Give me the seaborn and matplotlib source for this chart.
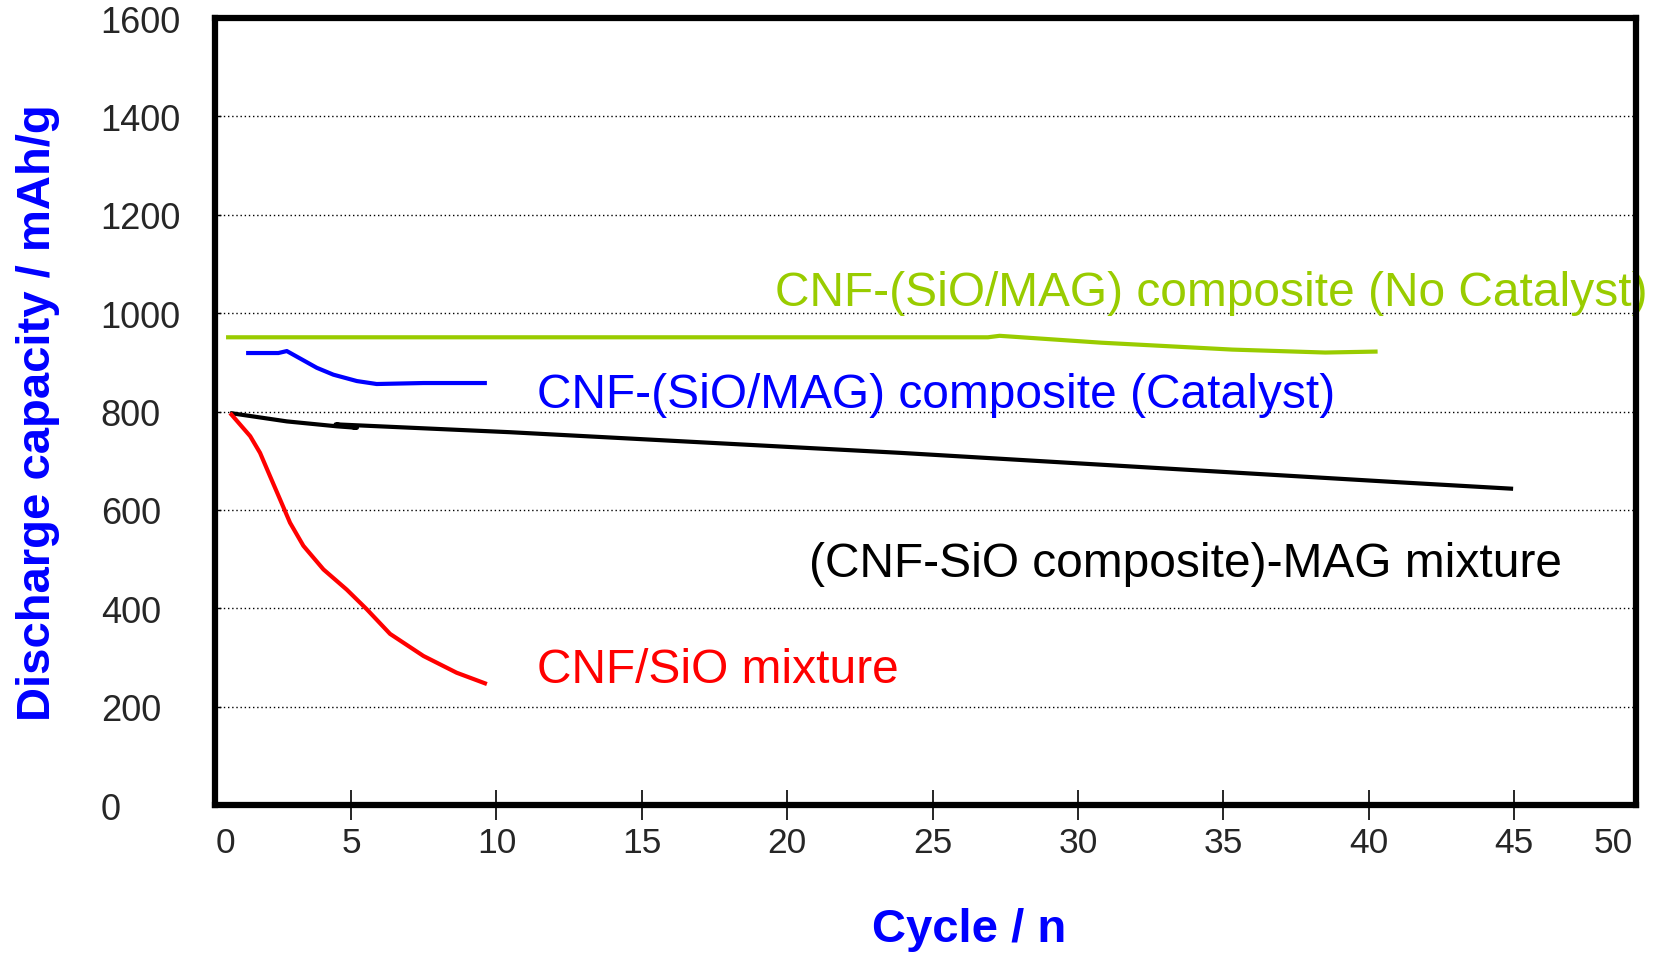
import matplotlib
matplotlib.use("Agg")
import matplotlib.pyplot as plt
import seaborn as sns
import pandas as pd

# Discharge capacity vs. cycle number for four anode materials
green_cycle = [0.70, 26.9, 27.3, 30.8, 35.3, 38.5, 40.3]
green_cap = [951, 951, 954, 940, 926, 920, 922]

blue_cycle = [1.39, 2.50, 2.79, 3.82, 4.39, 5.20, 5.88, 7.49, 9.67]
blue_cap = [919, 919, 923, 889, 875, 862, 856, 858, 858]

black_cycle = [0.84, 2.79, 4.51, 5.20, 4.47, 10.47, 23.9, 41.1, 44.96]
black_cap = [797, 780, 770, 767, 774, 758, 716, 656, 643]

red_cycle = [0.84, 1.53, 1.87, 2.21, 2.56, 2.90, 3.36, 4.05, 4.85, 5.54,
             6.34, 7.49, 8.63, 9.67]
red_cap = [797, 750, 716, 669, 621, 574, 527, 479, 438, 398,
           348, 303, 269, 246]

series_labels = [
    "CNF-(SiO/MAG) composite (No Catalyst)",
    "CNF-(SiO/MAG) composite (Catalyst)",
    "(CNF-SiO composite)-MAG mixture",
    "CNF/SiO mixture",
]
series_colors = ["#99CC00", "#0000FF", "#000000", "#FF0000"]
label_pos = [(19.58, 1017), (11.4, 810), (20.75, 465), (11.4, 250)]

xtick_pos = [0.68, 5, 10, 15, 20, 25, 30, 35, 40, 45, 48.4]
xtick_labels = ["0", "5", "10", "15", "20", "25", "30", "35", "40", "45", "50"]
ytick_vals = [0, 200, 400, 600, 800, 1000, 1200, 1400, 1600]

sns.set_theme(style="white")
plt.rcParams["font.family"] = ["Liberation Sans", "DejaVu Sans"]

fig = plt.figure(figsize=(16.57, 9.54), dpi=100)
ax = fig.add_axes([0.1295, 0.1551, 0.8579, 0.8249])

data = [(green_cycle, green_cap), (blue_cycle, blue_cap),
        (black_cycle, black_cap), (red_cycle, red_cap)]
for (xs, ys), color in zip(data, series_colors):
    df = pd.DataFrame({"cycle": xs, "capacity": ys})
    sns.lineplot(data=df, x="cycle", y="capacity", ax=ax, color=color,
                 linewidth=3.0, sort=False, estimator=None, legend=False)
for line in ax.get_lines():
    line.set_solid_joinstyle("round")
    line.set_solid_capstyle("butt")

for name, color, (tx, ty) in zip(series_labels, series_colors, label_pos):
    ax.text(tx, ty, name, color=color, fontsize=34.5, ha="left",
            va="baseline", zorder=1)

ax.set_xlim(0.306, 49.19)
ax.set_ylim(0, 1600)

ax.set_xticks(xtick_pos)
ax.set_xticklabels(xtick_labels)
ax.tick_params(axis="x", direction="inout", length=22, width=1.2,
               color="black", labelsize=25.5, pad=4, bottom=True)
for t in (ax.xaxis.get_major_ticks()[0], ax.xaxis.get_major_ticks()[-1]):
    t.tick1line.set_visible(False)

ax.set_yticks(ytick_vals)
ax.set_yticklabels([str(v) for v in ytick_vals])
ax.tick_params(axis="y", direction="in", length=4, width=1.0,
               color="black", labelsize=26, pad=82, left=True)
for lab in ax.get_yticklabels():
    lab.set_horizontalalignment("left")

ax.yaxis.grid(True, linestyle=(0, (1, 2)), color="black", linewidth=1.0)
ax.xaxis.grid(False)

for sp in ax.spines.values():
    sp.set_color("black")
    sp.set_linewidth(4.5)
    sp.set_zorder(5)

ax.set_xlabel("Cycle / n", color="#0000FF", fontsize=34, fontweight="bold")
ax.xaxis.set_label_coords(0.531, -0.157)
ax.xaxis.label.set_verticalalignment("center")

ax.set_ylabel("Discharge capacity / mAh/g", color="#0000FF", fontsize=34,
              fontweight="bold")
ax.yaxis.set_label_coords(-0.124, 0.5)
ax.yaxis.label.set_verticalalignment("center")

fig.savefig("out.png", dpi=100)
